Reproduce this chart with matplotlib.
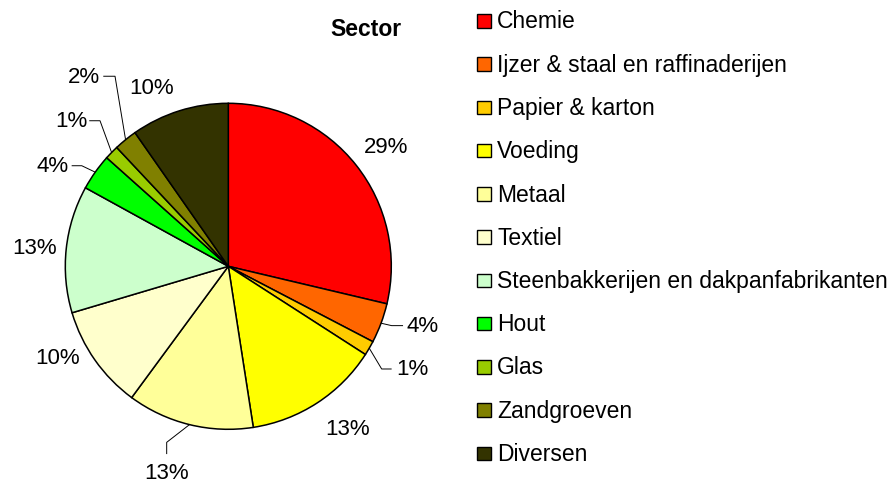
import matplotlib
matplotlib.use('Agg')
import matplotlib.pyplot as plt
from matplotlib.patches import Rectangle
import numpy as np

plt.rcParams['font.family'] = ['Liberation Sans', 'DejaVu Sans']

# ---- data ----
title = "Sector"
sectors = ["Chemie", "Ijzer & staal en raffinaderijen", "Papier & karton", "Voeding",
           "Metaal", "Textiel", "Steenbakkerijen en dakpanfabrikanten", "Hout",
           "Glas", "Zandgroeven", "Diversen"]
values = [28.7, 3.95, 1.45, 13.45, 12.55, 10.3, 12.6, 3.6, 1.4, 2.3, 9.7]
colors = ["#FF0000", "#FF6600", "#FFCC00", "#FFFF00", "#FFFF99", "#FFFFCC",
          "#CCFFCC", "#00FF00", "#99CC00", "#808000", "#333300"]

# label layout (data units, pie radius = 1): text anchor, ha, optional leader elbow/end
label_layout = {
    0: dict(pos=(0.967, 0.732), ha='center'),
    1: dict(pos=(1.096, -0.364), ha='left', elbow=(1.002, -0.364), end=(1.072, -0.364)),
    2: dict(pos=(1.029, -0.630), ha='left', elbow=(0.941, -0.630), end=(1.002, -0.630)),
    3: dict(pos=(0.734, -0.995), ha='center'),
    4: dict(pos=(-0.378, -1.262), ha='center', elbow=(-0.378, -1.080), end=(-0.378, -1.152)),
    5: dict(pos=(-1.047, -0.558), ha='center'),
    6: dict(pos=(-1.190, 0.117), ha='center'),
    7: dict(pos=(-0.977, 0.617), ha='right', elbow=(-0.899, 0.617), end=(-0.961, 0.617)),
    8: dict(pos=(-0.866, 0.893), ha='right', elbow=(-0.787, 0.893), end=(-0.853, 0.893)),
    9: dict(pos=(-0.787, 1.166), ha='right', elbow=(-0.695, 1.166), end=(-0.767, 1.166)),
    10: dict(pos=(-0.470, 1.098), ha='center'),
}

W, H = 893, 485
fig = plt.figure(figsize=(W / 100, H / 100), dpi=100)

R = 163.0
cx, cy = 228.3, 267.3
ax = fig.add_axes([0, 0, 2 * cx / W, 1])
wedges, _ = ax.pie(values, colors=colors, startangle=90, counterclock=False,
                   radius=1, wedgeprops=dict(edgecolor='black', linewidth=1.1))
ax.set_aspect('auto')
ax.set_xlim(-cx / R, cx / R)
ax.set_ylim((cy - H) / R, cy / R)
ax.axis('off')

total = sum(values)
cum = 0.0
for i, v in enumerate(values):
    mid = (cum + v / 2) / total * 2 * np.pi
    cum += v
    lay = label_layout[i]
    txt = "%d%%" % int(np.floor(v / total * 100 + 0.5))
    if 'elbow' in lay:
        sx, sy = np.sin(mid), np.cos(mid)
        ex, ey = lay['elbow']
        fx, fy = lay['end']
        ax.plot([sx, ex, fx], [sy, ey, fy], color='black', lw=0.7, solid_capstyle='butt')
    ax.text(lay['pos'][0], lay['pos'][1], txt, ha=lay['ha'], va='center', fontsize=16)

fig.text(366.2 / W, 1 - 36 / H, title, ha='center', va='baseline', fontsize=16.5, fontweight='bold')

# legend
for i, (name, c) in enumerate(zip(sectors, colors)):
    base = 28.5 + i * 43.25
    sq = Rectangle((477 / W, 1 - base / H), 13.5 / W, 13.5 / H, transform=fig.transFigure,
                   facecolor=c, edgecolor='black', linewidth=1.0)
    fig.patches.append(sq)
    fig.text(497 / W, 1 - base / H, name, ha='left', va='baseline', fontsize=16.5)

fig.savefig('out.png', dpi=100)
